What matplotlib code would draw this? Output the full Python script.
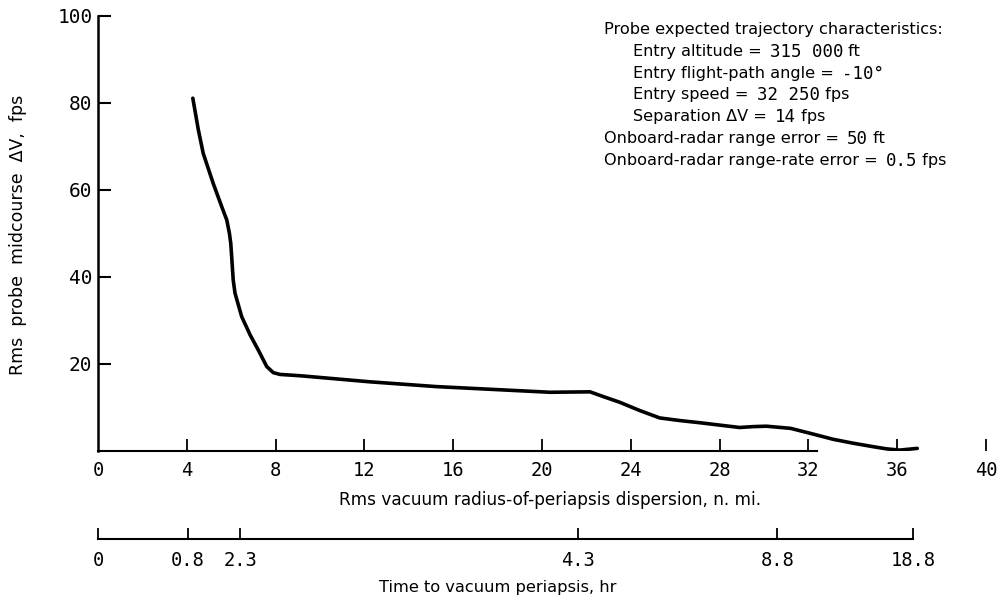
import matplotlib.pyplot as plt

# rms midcourse correction vs. rms periapsis dispersion
dispersion = [4.27, 4.52, 4.74, 5.19, 5.57, 5.8, 5.92, 5.98, 6.02, 6.09, 6.17,
              6.47, 6.85, 7.22, 7.6, 7.9, 8.2, 9.1, 12.25, 15.25, 20.36,
              22.16, 22.76, 23.5, 24.4, 25.3, 26.2, 27.1, 28.9, 29.5, 30.1,
              31.2, 32.2, 33.1, 34.0, 34.9, 35.5, 36.1, 36.9]
delta_v = [81.1, 73.8, 68.4, 61.5, 56.2, 53.1, 50.0, 47.7, 44.7, 39.3, 36.3,
           30.9, 26.7, 23.2, 19.4, 18.0, 17.6, 17.3, 15.9, 14.8, 13.5,
           13.6, 12.5, 11.2, 9.3, 7.6, 7.0, 6.5, 5.4, 5.6, 5.7,
           5.2, 3.9, 2.7, 1.8, 1.0, 0.5, 0.2, 0.6]

x_ticks = [0, 4, 8, 12, 16, 20, 24, 28, 32, 36, 40]
y_ticks = [20, 40, 60, 80, 100]

# time to periapsis labels and where they fall on the dispersion scale
time_labels = ['0', '0.8', '2.3', '4.3', '8.8', '18.8']
time_pos = [0, 4.05, 6.4, 21.6, 30.6, 36.7]

# (text, value, unit, indent)
notes = [
    ('Probe expected trajectory characteristics:', '', '', 0),
    ('Entry altitude = ', '315 000', ' ft', 1),
    ('Entry flight-path angle = ', '-10°', '', 1),
    ('Entry speed = ', '32 250', ' fps', 1),
    ('Separation ΔV = ', '14', ' fps', 1),
    ('Onboard-radar range error = ', '50', ' ft', 0),
    ('Onboard-radar range-rate error = ', '0.5', ' fps', 0),
]

mono = 'DejaVu Sans Mono'

fig = plt.figure(figsize=(9.99, 6.01), dpi=100)
ax = fig.add_axes([0.0981, 0.2496, 0.889, 0.7238])

ax.plot(dispersion, delta_v, color='black', linewidth=2.6,
        solid_capstyle='round', solid_joinstyle='round')

ax.set_xlim(0, 40)
ax.set_ylim(0, 100)
for side in ['top', 'right']:
    ax.spines[side].set_visible(False)
ax.spines['left'].set_linewidth(1.8)
ax.spines['bottom'].set_linewidth(1.5)
ax.spines['bottom'].set_bounds(0, 32.4)

ax.set_xticks(x_ticks)
ax.set_xticklabels([str(t) for t in x_ticks], family=mono, fontsize=13.5)
ax.set_yticks(y_ticks)
ax.set_yticklabels([str(t) for t in y_ticks], family=mono, fontsize=14)
ax.tick_params(axis='x', direction='in', length=9, width=1.3, pad=7)
ax.tick_params(axis='y', direction='in', length=9, width=1.5, pad=4)
# the x=0 corner has no tick mark, only its label
ax.xaxis.get_major_ticks()[0].tick1line.set_visible(False)

fig.text(0.018, 0.61, 'Rms  probe  midcourse  ΔV,  fps', rotation=90,
         ha='center', va='center', fontsize=12.5)

fig.text(0.551, 0.168, 'Rms vacuum radius-of-periapsis dispersion, n. mi.',
         ha='center', va='center', fontsize=12.2)

# time-to-periapsis scale below the main axis
ax2 = fig.add_axes([0.0981, 0.1032, 0.889, 0.001])
ax2.set_xlim(0, 40)
ax2.set_yticks([])
for side in ['top', 'right', 'left']:
    ax2.spines[side].set_visible(False)
ax2.spines['bottom'].set_linewidth(1.5)
ax2.spines['bottom'].set_bounds(0, 36.7)
ax2.set_xticks(time_pos)
ax2.set_xticklabels(time_labels, family=mono, fontsize=13.5)
ax2.tick_params(axis='x', direction='in', length=8, width=1.3, pad=9)
ax2.patch.set_visible(False)

fig.text(0.498, 0.023, 'Time to vacuum periapsis, hr', ha='center', va='center', fontsize=11.7)

# trajectory notes: words in sans, numbers in mono, laid out piece by piece
renderer = fig.canvas.get_renderer()
for i, (words, value, unit, indent) in enumerate(notes):
    x = 604 + 29 * indent
    y = 601 - (28 + 21.8 * i)
    for piece, fam, size in [(words, 'DejaVu Sans', 11.6), (value, mono, 12.5),
                             (unit, 'DejaVu Sans', 11.6)]:
        if not piece:
            continue
        t = fig.text(x / 999, y / 601, piece, ha='left', va='center_baseline',
                     family=fam, fontsize=size)
        x = t.get_window_extent(renderer).x1 + (3 if piece.endswith(' ') else 0)

fig.savefig('out.png', dpi=100)
